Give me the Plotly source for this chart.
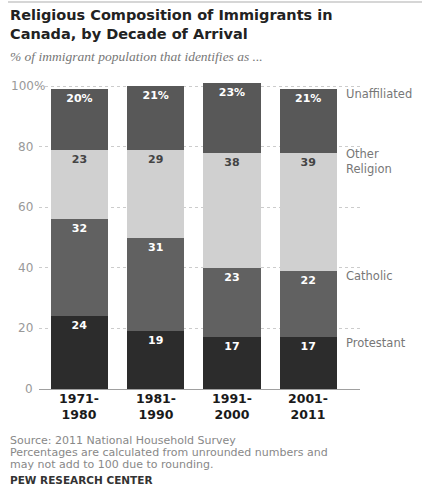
import plotly.graph_objects as go

decades = ["1971-1980", "1981-1990", "1991-2000", "2001-2011"]
protestant = [24, 19, 17, 17]
catholic = [32, 31, 23, 22]
other_religion = [23, 29, 38, 39]
unaffiliated = [20, 21, 23, 21]
y_ticks = [0, 20, 40, 60, 80, 100]
y_tick_labels = ["0", "20", "40", "60", "80", "100%"]

W, H = 422, 486
L, R, T, B = 39, 360, 81, 389


def px_x(px):
    return (px - L) / (R - L)


def px_y(py):
    return (B - py) / (B - T)


FONT = "DejaVu Sans"
series = [
    ("Protestant", protestant, "#2c2c2c", "white", [str(v) for v in protestant]),
    ("Catholic", catholic, "#616161", "white", [str(v) for v in catholic]),
    ("Other Religion", other_religion, "#d0d0d0", "#444444", [str(v) for v in other_religion]),
    ("Unaffiliated", unaffiliated, "#585858", "white", [f"{v}%" for v in unaffiliated]),
]

fig = go.Figure()
for name, vals, col, tcol, txt in series:
    fig.add_trace(go.Bar(
        x=decades, y=vals, name=name, marker=dict(color=col, line=dict(width=0)),
        text=txt, textposition="inside", insidetextanchor="end", textangle=0,
        textfont=dict(family=FONT, size=11, color=tcol, weight="bold"),
        constraintext="none", hoverinfo="skip",
    ))

ann = []
# y tick labels
for v, lab in zip(y_ticks, y_tick_labels):
    if lab.endswith("%"):
        ann.append(dict(xref="paper", yref="y", x=px_x(9), y=v, text=lab, showarrow=False,
                        xanchor="left", yanchor="middle",
                        font=dict(family=FONT, size=12, color="#999999")))
    else:
        ann.append(dict(xref="paper", yref="y", x=px_x(35), y=v, text=lab, showarrow=False,
                        xanchor="right", yanchor="middle",
                        font=dict(family=FONT, size=12, color="#999999")))

# x tick labels (two lines)
for d in decades:
    a, b = d.split("-")
    ann.append(dict(xref="x", yref="paper", x=d, y=px_y(406), text=f"<b>{a}-<br>{b}</b>",
                    showarrow=False, xanchor="center", yanchor="middle",
                    font=dict(family=FONT, size=12.5, color="#1a1a1a")))

# right-side series labels
side = [("Unaffiliated", 94), ("Other<br>Religion", 161), ("Catholic", 276), ("Protestant", 343)]
for txt, py in side:
    ann.append(dict(xref="paper", yref="paper", x=px_x(344), y=px_y(py), text=txt,
                    showarrow=False, xanchor="left", yanchor="middle", align="left",
                    font=dict(family=FONT, size=11.5, color="#777777")))

# title & subtitle
ann.append(dict(xref="paper", yref="paper", x=px_x(8), y=px_y(25),
                text="<b>Religious Composition of Immigrants in<br>Canada, by Decade of Arrival</b>",
                showarrow=False, xanchor="left", yanchor="middle", align="left",
                font=dict(family=FONT, size=14.5, color="#222222")))
ann.append(dict(xref="paper", yref="paper", x=px_x(8), y=px_y(57),
                text="<i>% of immigrant population that identifies as ...</i>",
                showarrow=False, xanchor="left", yanchor="middle",
                font=dict(family="Liberation Serif", size=13.5, color="#777777")))

# footnotes
notes = [("Source: 2011 National Household Survey", 440),
         ("Percentages are calculated from unrounded numbers and", 452),
         ("may not add to 100 due to rounding.", 464)]
for txt, py in notes:
    ann.append(dict(xref="paper", yref="paper", x=px_x(8), y=px_y(py), text=txt,
                    showarrow=False, xanchor="left", yanchor="middle",
                    font=dict(family=FONT, size=11, color="#888888")))
ann.append(dict(xref="paper", yref="paper", x=px_x(8), y=px_y(480), text="<b>PEW RESEARCH CENTER</b>",
                showarrow=False, xanchor="left", yanchor="middle",
                font=dict(family=FONT, size=10.5, color="#333333")))

fig.update_layout(
    width=W, height=H, barmode="stack", bargap=0.25, showlegend=False,
    plot_bgcolor="white", paper_bgcolor="white",
    margin=dict(l=L, r=W - R, t=T, b=H - B, pad=0),
    annotations=ann,
    shapes=[dict(type="line", xref="paper", yref="paper", x0=px_x(8), x1=px_x(422),
                 y0=px_y(2), y1=px_y(2), line=dict(color="#d6d6d6", width=2))],
    xaxis=dict(range=[-0.53, 3.68], showticklabels=False, ticks="", showgrid=False,
               showline=True, linecolor="#a0a0a0", linewidth=1, zeroline=False),
    yaxis=dict(range=[0, 101.65], tickvals=y_ticks, showticklabels=False, ticks="",
               showgrid=True, gridcolor="#cccccc", griddash="dot", gridwidth=1,
               zeroline=False, showline=False),
)

fig.write_html("out.html", config={"displayModeBar": False},
               post_script="document.body.style.margin='0px';")
